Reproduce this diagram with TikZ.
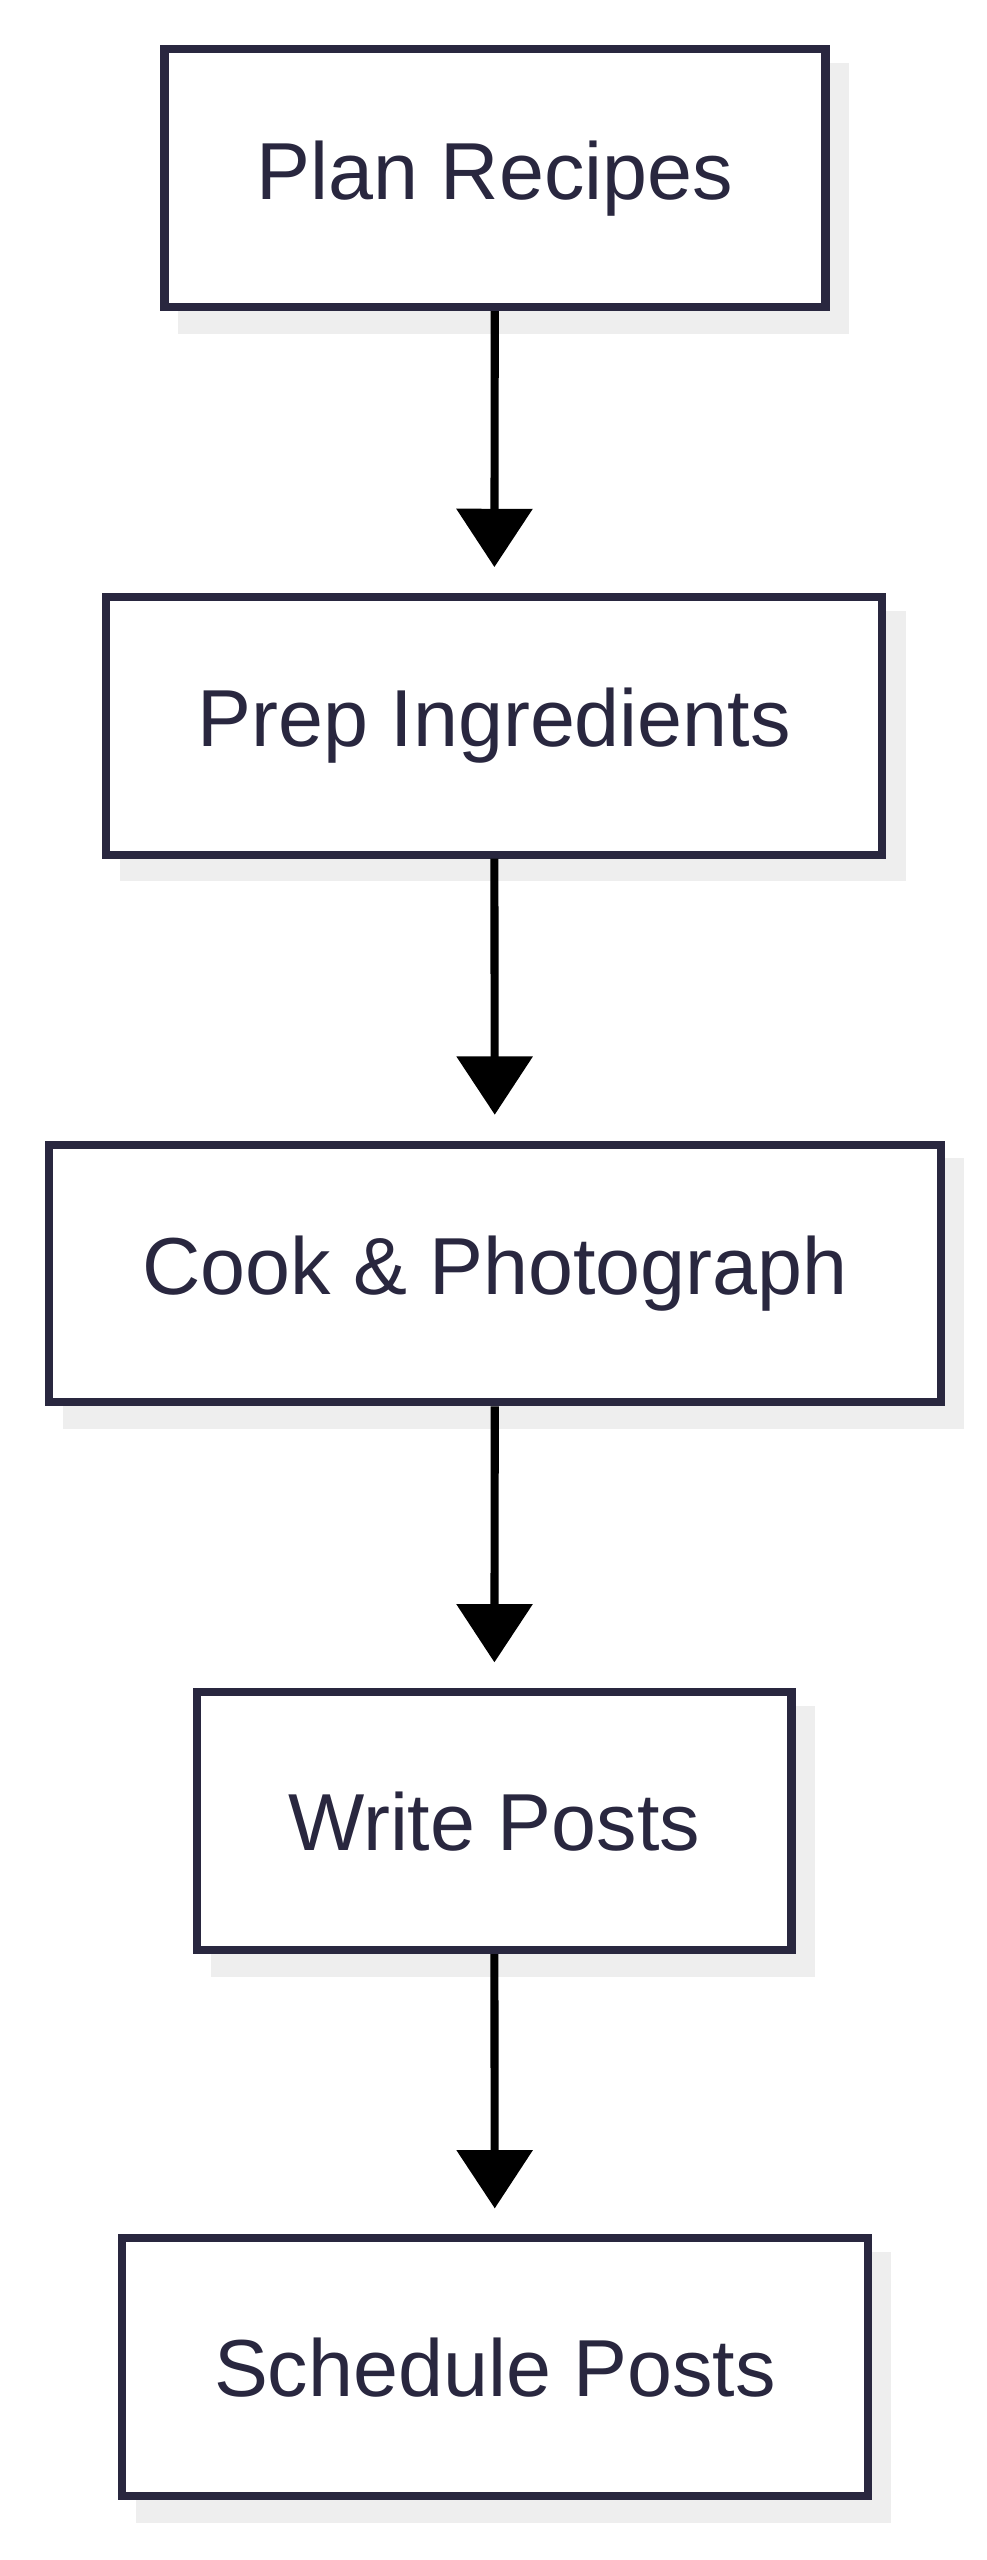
\documentclass[tikz,border=0pt]{standalone}
\usepackage{fontspec}
\setmainfont{Liberation Sans}
\usetikzlibrary{arrows.meta}
\definecolor{bd}{HTML}{29273F}
\definecolor{sh}{HTML}{EEEEEE}
\begin{document}
\begin{tikzpicture}[x=0.1cm,y=-0.1cm,
  box/.style={draw=bd,line width=0.5cm,fill=white,text=bd,font=\fontsize{142}{150}\selectfont},
  arr/.style={line width=0.5cm,-{Triangle[width=4.6cm,length=3.6cm]},shorten >=1.6cm}]
\useasboundingbox (0,0) rectangle (609,1580);
\foreach \n/\a/\b/\t/\l in {a/99/507/28/Plan Recipes,b/63/542/366/Prep Ingredients,c/28/578/704/Cook \& Photograph,d/119/486/1042/Write Posts,e/73/533/1379/Schedule Posts}{
  \fill[sh] (\a+11,\t+11) rectangle (\b+17,\t+178);
  \node[box,minimum width=(\b-\a)*0.1cm,minimum height=15.9cm,anchor=north west,inner sep=0] (\n) at (\a,\t) {\l};
}
\draw[arr] (a) -- (b);
\draw[arr] (b) -- (c);
\draw[arr] (c) -- (d);
\draw[arr] (d) -- (e);
\end{tikzpicture}
\end{document}
